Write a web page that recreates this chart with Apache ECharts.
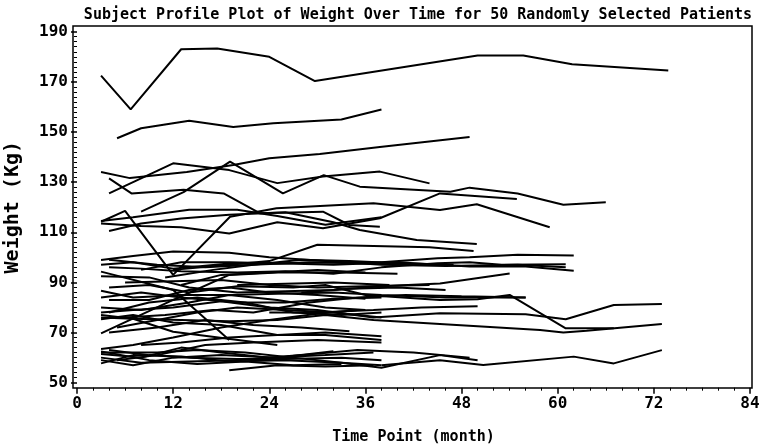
<!DOCTYPE html>
<html>
<head>
<meta charset="utf-8">
<script src="https://cdn.jsdelivr.net/npm/echarts@6/dist/echarts.min.js"></script>
<style>html,body{margin:0;padding:0;background:#fff}#c{width:760px;height:446px}</style>
</head>
<body>
<div id="c"></div>
<script>
// ---- data: weight (kg) by month for each patient ----
const p01 = [[3,172.5],[6.7,159],[13,183],[17.5,183.3],[24,180],[29.7,170.3],[50,180.5],[55.7,180.5],[61.8,177],[73.8,174.5]];
const p02 = [[5,147.5],[8,151.5],[14,154.5],[19.5,152],[24.5,153.5],[33,155],[38,159]];
const p03 = [[3,134],[6.6,131.6],[13.7,134],[19.5,136.8],[24,139.5],[30.3,141.2],[37.8,144],[49,148]];
const p04 = [[4,131.5],[6.8,125.5],[13.3,127],[18.3,125.5],[22.8,117.6],[30.7,118.2],[34,112.9],[37.8,112.2]];
const p05 = [[4,125.5],[12,137.5],[19,134.8],[25,129.6],[30.7,132.2],[37.8,134.2],[44,129.5]];
const p06 = [[8,118.2],[13.3,126],[19.1,138.2],[25.7,125.5],[30.8,132.8],[35.3,128.2],[46.6,126.2],[49,127.8],[55,125.5],[60.7,121],[66,122]];
const p07 = [[3,114.2],[6,118.5],[12,93],[19.1,116.2],[24.9,119.6],[37,121.6],[45.3,118.9],[49.9,121.2],[59,112]];
const p08 = [[3,113.5],[8,112.5],[13,112],[19,109.5],[25,114],[30.7,111.6],[37.8,115.6],[45.3,125.5],[54.9,123.3]];
const p09 = [[4,110.5],[8,113.5],[13,115.5],[19,117],[26,118],[32,114],[35.3,110.9],[42.4,106.9],[49.9,105.3]];
const p10 = [[3,114.5],[7,116],[14,119],[20,119],[25,116.5],[31,113],[38,116]];
const p11 = [[12,95],[19,97],[24,98.5],[30,105],[37,104.5],[44,104],[49.5,102.5]];
const p12 = [[3,98.9],[7,100.5],[12,102.3],[19,101.8],[24,100],[31,98.5],[38,97],[46,96.5],[55,97],[61,96]];
const p13 = [[3,97],[7,98],[12,95.5],[19,97.5],[25,97.5],[32,98],[38,98],[45,99.6],[49,100],[55,101],[62,100.7]];
const p14 = [[4,96],[8,95.5],[13,94.5],[20,94],[26,94.5],[32,93.5],[38,96],[45,97.6],[49,98],[53,97],[61,97.2]];
const p15 = [[3,92.5],[9,92],[14,88],[20,86],[26,86.5],[32,87],[38,88.5],[45.3,89.6],[54,93.6]];
const p16 = [[4,88],[9,89],[14,86],[20,88.5],[27,88],[31,89],[36,85],[45.3,83],[50,83.3],[54,85],[61,71.7],[67,71.7]];
const p17 = [[3,86.7],[7,84],[13,85],[19,85],[25,85.5],[32,86],[38,85],[46,84],[56,84]];
const p18 = [[4,83],[9,83],[14,87],[19,88],[24,86],[30,85],[36,83.5]];
const p19 = [[3,94.3],[12,87],[19,67]];
const p20 = [[3,69.7],[12,83],[19,93],[25,94],[33,94],[40,93.5]];
const p21 = [[8,95],[13,98],[19,98],[26,97.5],[32,97],[40,98],[49,96.3],[56,96.3],[62,94.7]];
const p22 = [[11,92],[17,95],[22,97],[29,98],[36,97.5],[43,97]];
const p23 = [[3,78],[7,79],[12,80],[18,82.5],[24,80],[30,79],[37,76],[45.3,77.7],[56,77.3],[61,75.3],[67,81],[73,81.4]];
const p24 = [[3,76],[7,75.5],[13,75],[19,74.5],[25,75],[31,77],[37,75],[45.3,73.4],[57.8,71],[60.7,70],[63.6,70.7],[73,73.4]];
const p25 = [[3,75.3],[7,77],[12,74],[18,73],[25,69],[31,69],[38,67]];
const p26 = [[3,77],[7,75.5],[12,70.3],[25,65]];
const p27 = [[5,72],[10,75],[15,78],[20,80],[26,79],[32,78],[38,76]];
const p28 = [[3,80],[8,79],[14,82],[19,85],[25,83],[31,80],[36,79]];
const p29 = [[4,78],[9,82],[15,84],[21,82],[27,78],[33,77],[38,78]];
const p30 = [[6,76],[11,77],[17,79],[22,78],[29,82],[35,84],[41,85],[48,84.5],[56,84]];
const p31 = [[3,63.4],[7,65],[12,68],[18,72],[24,75],[30,77.5],[35,79]];
const p32 = [[3,61.4],[8,60],[13,64],[18,62],[24,60],[31,61],[37,62]];
const p33 = [[3,59],[7,57],[12,60],[18,61],[25,60],[32,62.5]];
const p34 = [[3,57.7],[7,61],[13,60.5],[19,58.5],[26,59],[33,58],[38,57]];
const p35 = [[4,63],[9,61],[14,60],[20,59.5],[26,59.5],[33,60],[38,59]];
const p36 = [[19,55],[25,57],[31,56.5],[37,57]];
const p37 = [[3,62],[10,62],[15,63],[21,62],[27,60],[33,58],[38,56],[45.3,61],[50,59]];
const p38 = [[38,57],[45.3,59],[50.7,57.1],[62,60.4],[67,57.7],[73,63]];
const p39 = [[3,60],[8,58],[14,58.5],[20,59],[28,61],[35,63],[42,62],[49,60]];
const p40 = [[5,59],[10,61],[16,65],[22,66],[30,67],[38,66]];
const p41 = [[4,99],[10,97],[16,96],[22,97],[28,99],[34,98.5],[41,97.5],[47,97]];
const p42 = [[6,90],[12,90.5],[18,91],[24,89],[30,88],[36,88.5],[44,89]];
const p43 = [[3,84],[8,86],[13,84],[20,82],[26,82],[32,83.5],[38,84]];
const p44 = [[4,70],[10,72],[16,75],[22,73],[28,72],[34,70.5]];
const p45 = [[8,65],[13,66],[19,68],[25,69],[31,70],[38,68.5]];
const p46 = [[3,62.5],[9,59],[15,57.5],[21,58.5],[27,57],[33,57.5]];
const p47 = [[13,89],[18,93],[24,94],[30,95],[36,94]];
const p48 = [[20,89],[26,89.5],[32,90],[39,89]];
const p49 = [[28,86],[34,87.5],[40,88],[46,87]];
const p50 = [[24,78],[30,78],[37,79],[43,80],[50,80.5]];

const profiles = [p01,p02,p03,p04,p05,p06,p07,p08,p09,p10,p11,p12,p13,p14,p15,p16,p17,p18,p19,p20,
  p21,p22,p23,p24,p25,p26,p27,p28,p29,p30,p31,p32,p33,p34,p35,p36,p37,p38,p39,p40,
  p41,p42,p43,p44,p45,p46,p47,p48,p49,p50];

const titleText = 'Subject Profile Plot of Weight Over Time for 50 Randomly Selected Patients';
const xTitle = 'Time Point (month)';
const yTitle = 'Weight (Kg)';
const xTicks = {min:0, max:84, interval:12};
const yTicks = {min:50, max:190, interval:20};

const mono = '"DejaVu Sans Mono", "Liberation Mono", monospace';
const chart = echarts.init(document.getElementById('c'), null, {renderer:'canvas'});
chart.setOption({
  animation:false,
  backgroundColor:'#fff',
  title:{text:titleText, left:413, top:3, textAlign:'center',
    textStyle:{fontFamily:mono, fontSize:15, fontWeight:'bold', color:'#000'}},
  grid:{left:77, right:10, top:31.7, bottom:63.3, containLabel:false, outerBoundsMode:'none'},
  xAxis:{type:'value', min:xTicks.min, max:xTicks.max, interval:xTicks.interval, offset:5,
    name:xTitle, nameLocation:'middle', nameGap:42,
    nameTextStyle:{fontFamily:mono, fontSize:15, fontWeight:'bold', color:'#000'},
    axisLine:{show:false},
    axisTick:{show:true, length:6, inside:false, lineStyle:{color:'#000', width:1.5}},
    minorTick:{show:true, splitNumber:6, length:3, lineStyle:{color:'#000', width:1}},
    axisLabel:{fontFamily:mono, fontSize:16, fontWeight:'bold', color:'#000', margin:8},
    splitLine:{show:false}},
  yAxis:{type:'value', min:yTicks.min, max:yTicks.max, interval:yTicks.interval, offset:4,
    name:yTitle, nameLocation:'middle', nameGap:50, nameRotate:90,
    nameTextStyle:{fontFamily:mono, fontSize:20, fontWeight:'bold', color:'#000'},
    axisLine:{show:false},
    axisTick:{show:true, length:6, inside:false, lineStyle:{color:'#000', width:1.5}},
    minorTick:{show:true, splitNumber:10, length:3, lineStyle:{color:'#000', width:1}},
    axisLabel:{fontFamily:mono, fontSize:16, fontWeight:'bold', color:'#000', margin:5},
    splitLine:{show:false}},
  graphic:[{type:'rect', shape:{x:73, y:26, width:679, height:362}, z:100,
    style:{fill:null, stroke:'#000', lineWidth:1.5}, silent:true}],
  series: profiles.map((d,i)=>({type:'line', name:'P'+(i+1), data:d, showSymbol:false, symbol:'none',
    lineStyle:{color:'#000', width:2}, silent:true}))
});
</script>
</body>
</html>
